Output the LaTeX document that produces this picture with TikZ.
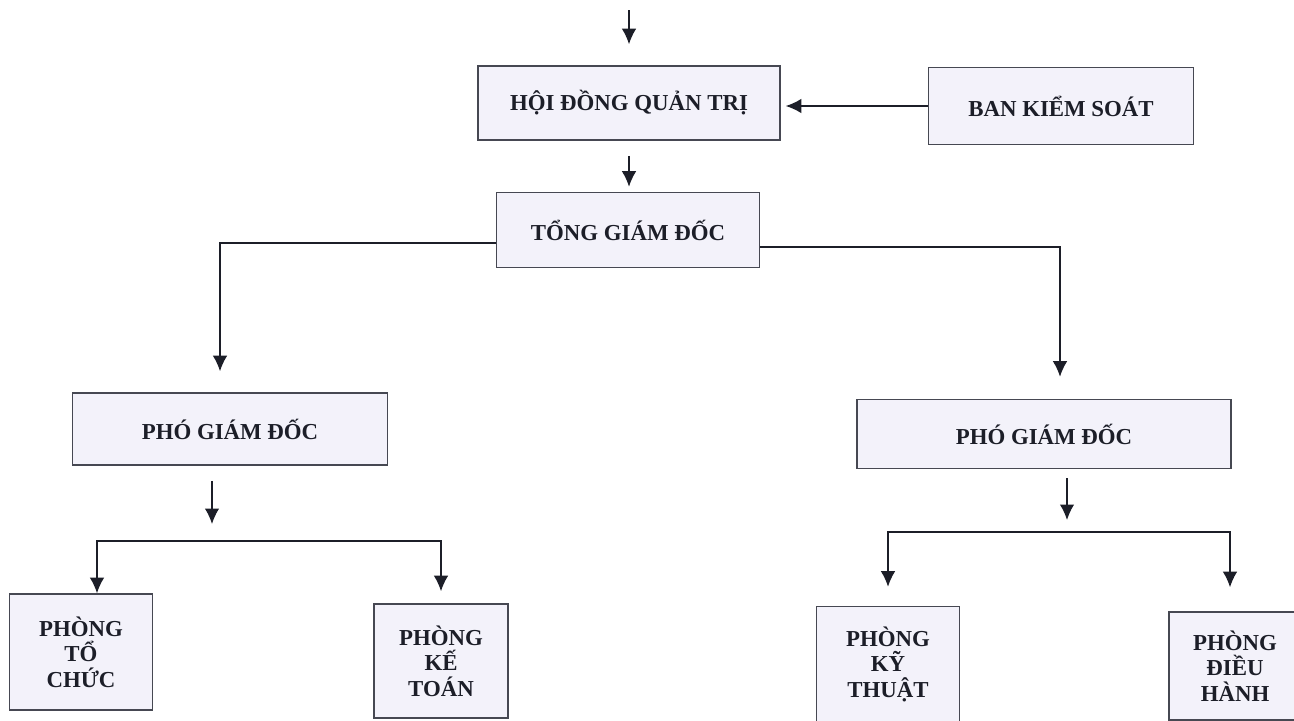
\documentclass[tikz,border=0pt]{standalone}
\usepackage{fontspec}
\setmainfont{Liberation Serif}
\usetikzlibrary{arrows.meta}
\definecolor{boxfill}{RGB}{243,242,250}
\definecolor{boxline}{RGB}{70,72,82}
\definecolor{ink}{RGB}{28,30,40}

\begin{document}
\begin{tikzpicture}[x=0.02cm, y=-0.02cm, >={Latex[length=3.1mm,width=2.9mm]},
    every node/.style={align=center, font=\fontsize{13}{14.5}\selectfont\bfseries, text=ink},
    unit/.style={draw=boxline, line width=0.9pt, fill=boxfill, inner sep=2pt},
    link/.style={->, line width=0.8pt, draw=ink}]
  \useasboundingbox (0,0) rectangle (1294,720);
  \clip (0,0) rectangle (1294,720);
  % top level
  \node[unit, minimum width=6.04cm, minimum height=1.48cm] (hdqt) at (629,103) {HỘI ĐỒNG QUẢN TRỊ};
  \node[unit, minimum width=5.3cm, minimum height=1.54cm] (bks) at (1061,106) {BAN KIỂM SOÁT};
  \node[unit, minimum width=5.26cm, minimum height=1.5cm] (tgd) at (628,230) {TỔNG GIÁM ĐỐC};
  % deputies
  \node[unit, minimum width=6.3cm, minimum height=1.44cm] (pgdl) at (230,429) {PHÓ GIÁM ĐỐC};
  \node[unit, minimum width=7.48cm, minimum height=1.38cm] (pgdr) at (1044,434) {PHÓ GIÁM ĐỐC};
  % departments
  \node[unit, minimum width=2.86cm, minimum height=2.32cm] (ptc) at (81,652) {PHÒNG\\TỔ\\CHỨC};
  \node[unit, minimum width=2.68cm, minimum height=2.28cm] (pkt) at (441,661) {PHÒNG\\KẾ\\TOÁN};
  \node[unit, minimum width=2.86cm, minimum height=2.3cm] (pkth) at (888,664) {PHÒNG\\KỸ\\THUẬT};
  \node[unit, minimum width=2.64cm, minimum height=2.16cm] (pdh) at (1235,666) {PHÒNG\\ĐIỀU\\HÀNH};

  \coordinate (entry) at (629,10);
  \coordinate (forkl) at (212,541);
  \coordinate (forkr) at (1067,532);

  \draw[link, shorten >=0.42cm] (entry) -- (hdqt.north);
  \draw[link, shorten >=0.1cm] (bks.west) -- (hdqt.east |- bks.west);
  \draw[link, shorten <=0.3cm, shorten >=0.1cm] (hdqt.south) -- (hdqt.south |- tgd.north);
  \draw[link, shorten >=0.42cm] ([yshift=-0.26cm]tgd.west) -| ([xshift=-0.2cm]pgdl.north);
  \draw[link, shorten >=0.44cm] ([yshift=-0.34cm]tgd.east) -| ([xshift=0.32cm]pgdr.north);
  \draw[link, shorten <=0.3cm, shorten >=0.34cm] (pgdl.south -| forkl) -- (forkl);
  \draw[link] (forkl) -| ([xshift=0.32cm]ptc.north);
  \draw[link, shorten >=0.24cm] (forkl) -| (pkt.north);
  \draw[link, shorten <=0.18cm, shorten >=0.24cm] (pgdr.south -| forkr) -- (forkr);
  \draw[link, shorten >=0.38cm] (forkr) -| (pkth.north);
  \draw[link, shorten >=0.48cm] (forkr) -| ([xshift=-0.1cm]pdh.north);
\end{tikzpicture}
\end{document}
